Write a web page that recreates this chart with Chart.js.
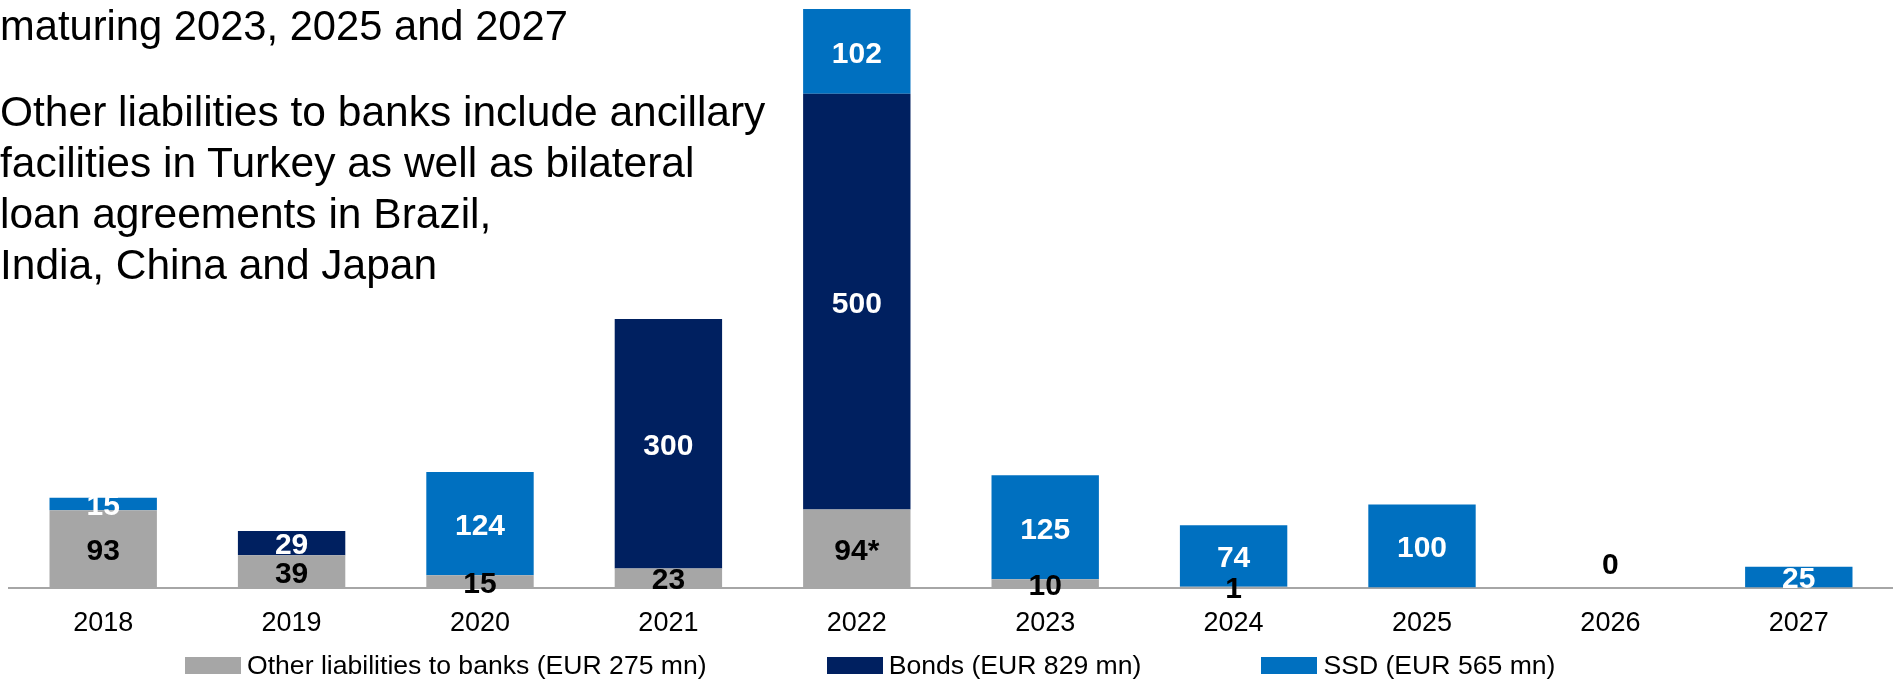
<!DOCTYPE html>
<html>
<head>
<meta charset="utf-8">
<script src="https://cdn.jsdelivr.net/npm/chart.js@4/dist/chart.umd.min.js"></script>
<style>
  body { margin: 0; background: #fff; }
  #wrap { position: relative; width: 1893px; height: 681px; font-family: "Liberation Sans", Arial, sans-serif; }
  #note1, #note2 { position: absolute; left: 0; line-height: 51px; color: #000; z-index: 2; }
  #note1 { top: 0px; font-size: 41.7px; }
  #note2 { top: 86px; font-size: 42.5px; }
  #legend { position: absolute; left: 185px; top: 649px; display: flex; gap: 120px; font-size: 26.6px; line-height: 32px; }
  #legend .item { display: flex; align-items: center; }
  #legend .box { width: 56px; height: 17px; margin-right: 6px; }
</style>
</head>
<body>
<div id="wrap">
  <canvas id="debtChart"></canvas>
  <div id="note1">maturing 2023, 2025 and 2027</div>
  <div id="note2">Other liabilities to banks include ancillary<br>facilities in Turkey as well as bilateral<br>loan agreements in Brazil,<br>India, China and Japan</div>
  <div id="legend"></div>
</div>
<script>
const years = ["2018", "2019", "2020", "2021", "2022", "2023", "2024", "2025", "2026", "2027"];
const otherBanks = [93, 39, 15, 23, 94, 10, 1, null, 0, null];
const bonds = [null, 29, null, 300, 500, null, null, null, null, null];
const ssd = [15, null, 124, null, 102, 125, 74, 100, null, 25];
const otherNotes = ["", "", "", "", "*", "", "", "", "", ""];

const seriesNames = [
  "Other liabilities to banks (EUR 275 mn)",
  "Bonds (EUR 829 mn)",
  "SSD (EUR 565 mn)",
];
const colors = ["#A6A6A6", "#002060", "#0070C0"];
const labelColors = ["#000000", "#FFFFFF", "#FFFFFF"];
const FONT = '"Liberation Sans", Arial, sans-serif';

// draws the numbers in the middle of each segment
const segmentLabels = {
  id: "segmentLabels",
  afterDatasetsDraw(chart) {
    const ctx = chart.ctx;
    ctx.save();
    ctx.font = "bold 30px " + FONT;
    ctx.textAlign = "center";
    ctx.textBaseline = "middle";
    chart.data.datasets.forEach((ds, i) => {
      const meta = chart.getDatasetMeta(i);
      meta.data.forEach((bar, j) => {
        const v = ds.data[j];
        if (v === null || v === undefined) return;
        let y = (bar.y + bar.base) / 2 + 3;
        if (v === 0) y = bar.base - 22;
        const txt = String(v) + (i === 0 ? otherNotes[j] : "");
        ctx.fillStyle = labelColors[i];
        ctx.fillText(txt, bar.x, y);
      });
    });
    ctx.restore();
  },
};

const ctx = document.getElementById("debtChart").getContext("2d");
const chart = new Chart(ctx, {
  type: "bar",
  data: {
    labels: years,
    datasets: [otherBanks, bonds, ssd].map((d, i) => ({
      label: seriesNames[i],
      data: d,
      backgroundColor: colors[i],
      borderWidth: 0,
      categoryPercentage: 1,
      barPercentage: 0.57,
    })),
  },
  options: {
    responsive: true,
    maintainAspectRatio: false,
    animation: false,
    layout: { padding: { left: 9, right: 0, top: 9, bottom: 21 } },
    plugins: {
      legend: { display: false },
      tooltip: { enabled: false },
    },
    scales: {
      x: {
        stacked: true,
        grid: { display: false, drawTicks: false },
        border: { display: true, color: "#A6A6A6", width: 2 },
        ticks: { color: "#000", font: { family: FONT, size: 27 }, padding: 20 },
      },
      y: {
        stacked: true,
        display: false,
        min: 0,
        max: 696,
      },
    },
  },
  plugins: [segmentLabels],
});

// html legend built from the datasets
const legendEl = document.getElementById("legend");
chart.data.datasets.forEach(ds => {
  const item = document.createElement("div");
  item.className = "item";
  const box = document.createElement("span");
  box.className = "box";
  box.style.background = ds.backgroundColor;
  const text = document.createElement("span");
  text.textContent = ds.label;
  item.appendChild(box);
  item.appendChild(text);
  legendEl.appendChild(item);
});
</script>
</body>
</html>
